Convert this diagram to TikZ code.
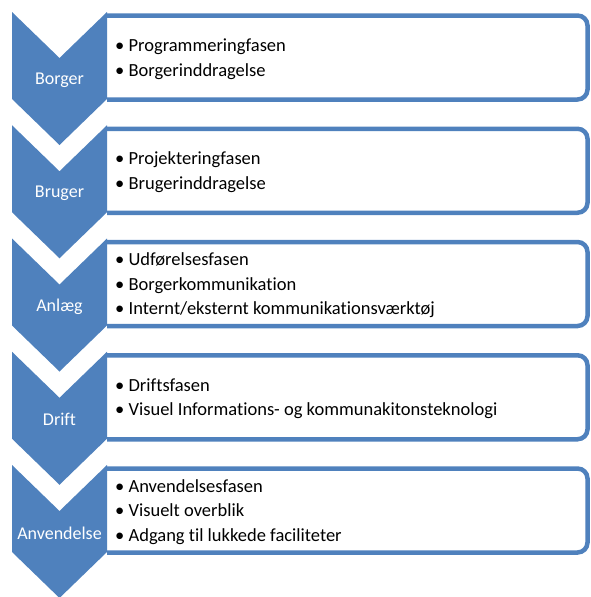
\documentclass[tikz,border=0pt]{standalone}
\usepackage{fontspec}
\setmainfont[Ligatures=NoCommon]{Carlito}
\definecolor{chevblue}{RGB}{79,129,189}
\begin{document}
\begin{tikzpicture}[x=1pt,y=-1pt]
	\tikzstyle{chev} = [fill=chevblue]
	\tikzstyle{box} = [draw=chevblue, fill=white, line width=4.5pt, rounded corners=10pt]
	\tikzstyle{lbl} = [text=white, inner sep=0pt, font=\fontsize{18}{22}\selectfont]
	\tikzstyle{txt} = [anchor=west, align=left, inner sep=0pt, font=\fontsize{18.5}{24.5}\selectfont]
	\useasboundingbox (0,0) rectangle (590,597);

	\coordinate (r1) at (12,12);
	\coordinate (r2) at (12,125.25);
	\coordinate (r3) at (12,238.5);
	\coordinate (r4) at (12,351.75);
	\coordinate (r5) at (12,465);

	% boxes
	\filldraw[box] (r1) ++(95,3.5) -- ++(480.5,0) -- ++(0,84) -- ++(-480.5,0);
	\filldraw[box] (r2) ++(95,3.5) -- ++(480.5,0) -- ++(0,84) -- ++(-480.5,0);
	\filldraw[box] (r3) ++(95,3.5) -- ++(480.5,0) -- ++(0,84) -- ++(-480.5,0);
	\filldraw[box] (r4) ++(95,3.5) -- ++(480.5,0) -- ++(0,84) -- ++(-480.5,0);
	\filldraw[box] (r5) ++(95,3.5) -- ++(480.5,0) -- ++(0,84) -- ++(-480.5,0);

	% chevrons
	\fill[chev] (r1) -- ++(47.5,46) -- ++(47.5,-46) -- ++(0,87) -- ++(-47.5,46) -- ++(-47.5,-46) -- cycle;
	\fill[chev] (r2) -- ++(47.5,46) -- ++(47.5,-46) -- ++(0,87) -- ++(-47.5,46) -- ++(-47.5,-46) -- cycle;
	\fill[chev] (r3) -- ++(47.5,46) -- ++(47.5,-46) -- ++(0,87) -- ++(-47.5,46) -- ++(-47.5,-46) -- cycle;
	\fill[chev] (r4) -- ++(47.5,46) -- ++(47.5,-46) -- ++(0,87) -- ++(-47.5,46) -- ++(-47.5,-46) -- cycle;
	\fill[chev] (r5) -- ++(47.5,46) -- ++(47.5,-46) -- ++(0,87) -- ++(-47.5,46) -- ++(-47.5,-46) -- cycle;

	\node[lbl] (borger) at (59.5,80) {Borger};
	\node[lbl] (bruger) at (59.5,193.25) {Bruger};
	\node[lbl] (anlaeg) at (59.5,306.5) {Anlæg};
	\node[lbl] (drift) at (59.5,419.75) {Drift};
	\node[lbl] (anvend) at (59.5,533) {Anvendelse};

	\node[txt] (borgertxt) at (115,59) {• Programmeringfasen\\• Borgerinddragelse};
	\node[txt] (brugertxt) at (115,172.25) {• Projekteringfasen\\• Brugerinddragelse};
	\node[txt] (anlaegtxt) at (115,285.5) {• Udførelsesfasen\\• Borgerkommunikation\\• Internt/eksternt kommunikationsværktøj};
	\node[txt] (drifttxt) at (115,398.75) {• Driftsfasen\\• Visuel Informations- og kommunakitonsteknologi};
	\node[txt] (anvendtxt) at (115,512) {• Anvendelsesfasen\\• Visuelt overblik\\• Adgang til lukkede faciliteter};
\end{tikzpicture}
\end{document}
